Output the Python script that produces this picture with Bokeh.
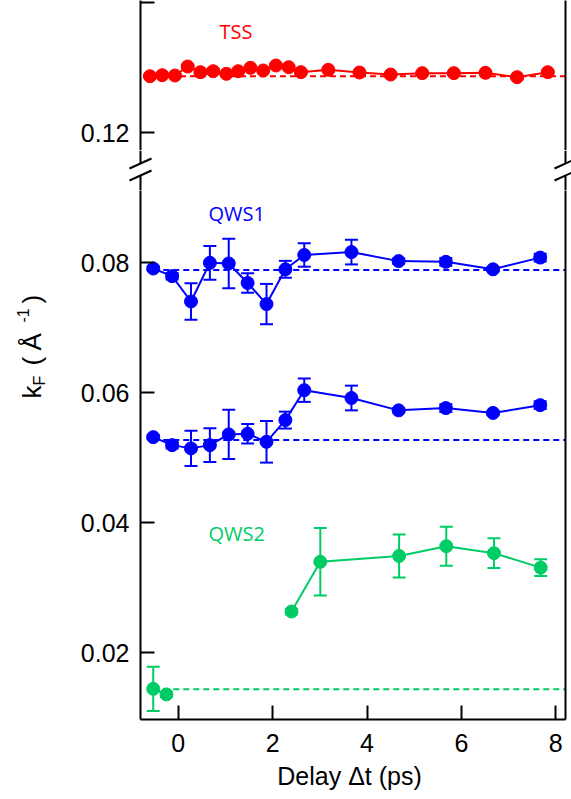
import math
from bokeh.plotting import figure
from bokeh.models import (Range1d, LinearAxis, FixedTicker, Label, Whisker, TeeHead,
                          ColumnDataSource, PrintfTickFormatter)
from bokeh.layouts import column, row
from bokeh.embed import file_html
from bokeh.resources import INLINE

# ---------------- data ----------------
tss_x = [-0.60, -0.34, -0.07, 0.20, 0.47, 0.74, 1.02, 1.27, 1.53, 1.80, 2.07,
         2.34, 2.60, 3.18, 3.84, 4.50, 5.17, 5.84, 6.51, 7.18, 7.83]
tss_y = [0.12866, 0.12882, 0.12877, 0.13015, 0.12928, 0.12943, 0.12903, 0.12943,
         0.12995, 0.12954, 0.13031, 0.13005, 0.12928, 0.12964, 0.12923, 0.12892,
         0.12913, 0.12913, 0.12918, 0.12851, 0.12928]
tss_err = [0.0002, 0.0002, 0.0002, 0.0002, 0.0002, 0.0004, 0.0002, 0.0002,
           0.0002, 0.0002, 0.0002, 0.0002, 0.0002, 0.0002, 0.0002, 0.0002,
           0.0002, 0.0002, 0.0002, 0.0002, 0.0002]
tss_ref = 0.12866

qws1_x = [-0.53, -0.13, 0.27, 0.67, 1.07, 1.47, 1.87, 2.27, 2.67, 3.67, 4.67, 5.67, 6.67, 7.67]
qws1a_y = [0.07912, 0.07795, 0.07405, 0.0800, 0.0799, 0.0769, 0.07365, 0.0790,
           0.0812, 0.08165, 0.08026, 0.08015, 0.0790, 0.0808]
qws1a_err = [0.0003, 0.0005, 0.0028, 0.0026, 0.0038, 0.0015, 0.0031, 0.0013,
             0.0018, 0.0019, 0.0004, 0.0006, 0.0003, 0.0006]
qws1a_ref = 0.0789

qws1b_y = [0.05318, 0.05195, 0.05145, 0.05195, 0.0536, 0.0537, 0.05246, 0.0558,
           0.0604, 0.0592, 0.0573, 0.05765, 0.0569, 0.0581]
qws1b_err = [0.0003, 0.0005, 0.0027, 0.0026, 0.0038, 0.0015, 0.0032, 0.0013,
             0.0018, 0.0019, 0.0003, 0.0006, 0.0003, 0.0006]
qws1b_ref = 0.05272

qws2_x = [-0.53, -0.25, 2.40, 3.01, 4.68, 5.68, 6.69, 7.68]
qws2_y = [0.01446, 0.0136, 0.02635, 0.0340, 0.0349, 0.0364, 0.03533, 0.0331]
qws2_err = [0.0034, 0.0004, 0.0004, 0.0052, 0.0033, 0.0030, 0.0023, 0.0013]
qws2_ref = 0.0144

x_ticks = [0, 2, 4, 6, 8]
top_ticks = [0.12]
top_minor = [0.14]
bot_ticks = [0.02, 0.04, 0.06, 0.08]

# ---------------- style / layout ----------------
RED, BLUE, GREEN = "#FF0000", "#0000FF", "#00CC66"
FONT = "Liberation Sans"
LFONT = "Open Sans"
PAGE_W, PAGE_H = 571, 799
LABW = 60                     # width of the y-label strip
W = PAGE_W - LABW
FL, FR = 140, 565            # frame left/right (page px)
X0, X1 = -0.80, 8.206
TOP_FB = 150                  # top frame bottom (page px)
BOT_FT, BOT_FB = 190, 719     # bottom frame top/bottom (page px)
BRK_A, BRK_B = 163, 175       # ends of the broken axis lines
YT0, YT1 = 0.12 - (TOP_FB - 132) / 6500.0, 0.12 + 132 / 6500.0
YB0, YB1 = 0.02 - (BOT_FB - 652.3) / 6500.0, 0.02 + (652.3 - BOT_FT) / 6500.0

x_range = Range1d(X0, X1)


def px2x(px):
    return X0 + (px - FL) * (X1 - X0) / (FR - FL)


def py2top(py):
    return YT1 - py * (YT1 - YT0) / TOP_FB


def py2bot(py):
    return YB1 - (py - BOT_FT) * (YB1 - YB0) / (BOT_FB - BOT_FT)


def style_axis(ax, ticks, minor=None):
    ax.ticker = FixedTicker(ticks=ticks, minor_ticks=minor or [])
    ax.axis_line_width = 2
    ax.axis_line_color = "black"
    ax.major_tick_line_width = 2
    ax.major_tick_in = 14
    ax.major_tick_out = 0
    ax.minor_tick_line_width = 2
    ax.minor_tick_in = 14
    ax.minor_tick_out = 0
    ax.major_label_text_font = FONT
    ax.major_label_text_font_size = "25px"
    ax.major_label_text_color = "black"
    ax.major_label_standoff = 11


def plain_axis():
    return LinearAxis(ticker=FixedTicker(ticks=[]), axis_line_width=2,
                      major_label_text_font_size="0px",
                      major_tick_line_color=None, minor_tick_line_color=None)


def make_fig(w, h, xr, yr, mb_left=0, mb_right=0, mb_top=0, mb_bot=0, align=True):
    p = figure(width=w, height=h, x_range=xr, y_range=yr,
               output_backend="svg", toolbar_location=None,
               x_axis_location=None, y_axis_location=None,
               min_border_left=mb_left, min_border_right=mb_right,
               min_border_top=mb_top, min_border_bottom=mb_bot)
    p.outline_line_color = None
    p.background_fill_color = "white"
    p.border_fill_color = "white"
    p.xgrid.grid_line_color = None
    p.ygrid.grid_line_color = None
    if not align:
        p.frame_align = False
    return p


top = make_fig(W, TOP_FB, x_range, Range1d(YT0, YT1), FL - LABW, PAGE_W - FR, 0, 0)
brk = make_fig(W, BOT_FT - TOP_FB, Range1d(LABW, PAGE_W), Range1d(PAGE_H - BOT_FT, PAGE_H - TOP_FB),
               align=False)
bot = make_fig(W, PAGE_H - BOT_FT, x_range, Range1d(YB0, YB1), FL - LABW, PAGE_W - FR,
               0, PAGE_H - BOT_FB)
lab = make_fig(LABW, PAGE_H, Range1d(0, LABW), Range1d(0, PAGE_H), align=False)

lt = LinearAxis(formatter=PrintfTickFormatter(format="%.2f"))
style_axis(lt, top_ticks, top_minor)
top.add_layout(lt, "left")
top.add_layout(plain_axis(), "right")

lb = LinearAxis(formatter=PrintfTickFormatter(format="%.2f"))
style_axis(lb, bot_ticks)
bot.add_layout(lb, "left")
bot.add_layout(plain_axis(), "right")

xb = LinearAxis()
style_axis(xb, x_ticks)
xb.major_label_standoff = 14
xb.axis_label = "Delay \u0394t  (ps)"
xb.axis_label_text_font = FONT
xb.axis_label_text_font_size = "25px"
xb.axis_label_text_font_style = "normal"
xb.axis_label_text_color = "black"
xb.axis_label_standoff = 7
bot.add_layout(xb, "below")


def series(p, x, y, err, color, ref, breaks=None):
    p.line([x[0], X1], [ref, ref], line_color=color, line_width=2, line_dash="6 4")
    src = ColumnDataSource(dict(x=x, y=y,
                                lo=[a - b for a, b in zip(y, err)],
                                hi=[a + b for a, b in zip(y, err)]))
    w = Whisker(source=src, base="x", upper="hi", lower="lo",
                line_color=color, line_width=2,
                upper_head=TeeHead(size=13, line_color=color, line_width=2),
                lower_head=TeeHead(size=13, line_color=color, line_width=2))
    p.add_layout(w)
    segs = breaks or [(0, len(x))]
    for a, b in segs:
        p.line(x[a:b], y[a:b], line_color=color, line_width=2)
    p.scatter("x", "y", source=src, size=13, color=color)


series(top, tss_x, tss_y, tss_err, RED, tss_ref)
series(bot, qws1_x, qws1a_y, qws1a_err, BLUE, qws1a_ref)
series(bot, qws1_x, qws1b_y, qws1b_err, BLUE, qws1b_ref)
series(bot, qws2_x, qws2_y, qws2_err, GREEN, qws2_ref, breaks=[(0, 2), (2, 8)])

# series names
top.add_layout(Label(x=px2x(219), y=py2top(31), text="TSS", text_color=RED,
                     text_font=LFONT, text_font_size="20px", text_baseline="alphabetic"))
bot.add_layout(Label(x=px2x(208), y=py2bot(213), text="QWS1", text_color=BLUE,
                     text_font=LFONT, text_font_size="20px", text_baseline="alphabetic"))
bot.add_layout(Label(x=px2x(208), y=py2bot(533), text="QWS2", text_color=GREEN,
                     text_font=LFONT, text_font_size="20px", text_baseline="alphabetic"))

# y-axis label k_F (Å^-1), composed of rotated pieces; (page x centre, page y start)
ylab = [("k", 31, 398, "26px"), ("F", 39, 385, "16px"), ("(", 31, 365, "26px"),
        ("\u00c5", 31, 350, "26px"), ("-1", 22, 322, "16px"), (")", 31, 303, "26px")]
for t, px, py, fs in ylab:
    lab.add_layout(Label(x=px, y=PAGE_H - py, text=t, angle=math.pi / 2,
                         text_font=FONT, text_font_size=fs, text_color="black",
                         text_align="left", text_baseline="middle"))

# axis break: axis stubs and double slashes (brk strip: page x, flipped page y)
for fx in (FL, FR):
    brk.segment(x0=[fx, fx], y0=[PAGE_H - TOP_FB, PAGE_H - BRK_B],
                x1=[fx, fx], y1=[PAGE_H - BRK_A, PAGE_H - BOT_FT],
                line_color="black", line_width=2)
    brk.segment(x0=[fx - 11, fx - 11], y0=[PAGE_H - BRK_A - 5, PAGE_H - BRK_B - 5],
                x1=[fx + 11, fx + 11], y1=[PAGE_H - BRK_A + 5, PAGE_H - BRK_B + 5],
                line_color="black", line_width=2)

layout = row(lab, column(top, brk, bot, spacing=0), spacing=0)
open("out.html", "w").write(file_html(layout, INLINE))
